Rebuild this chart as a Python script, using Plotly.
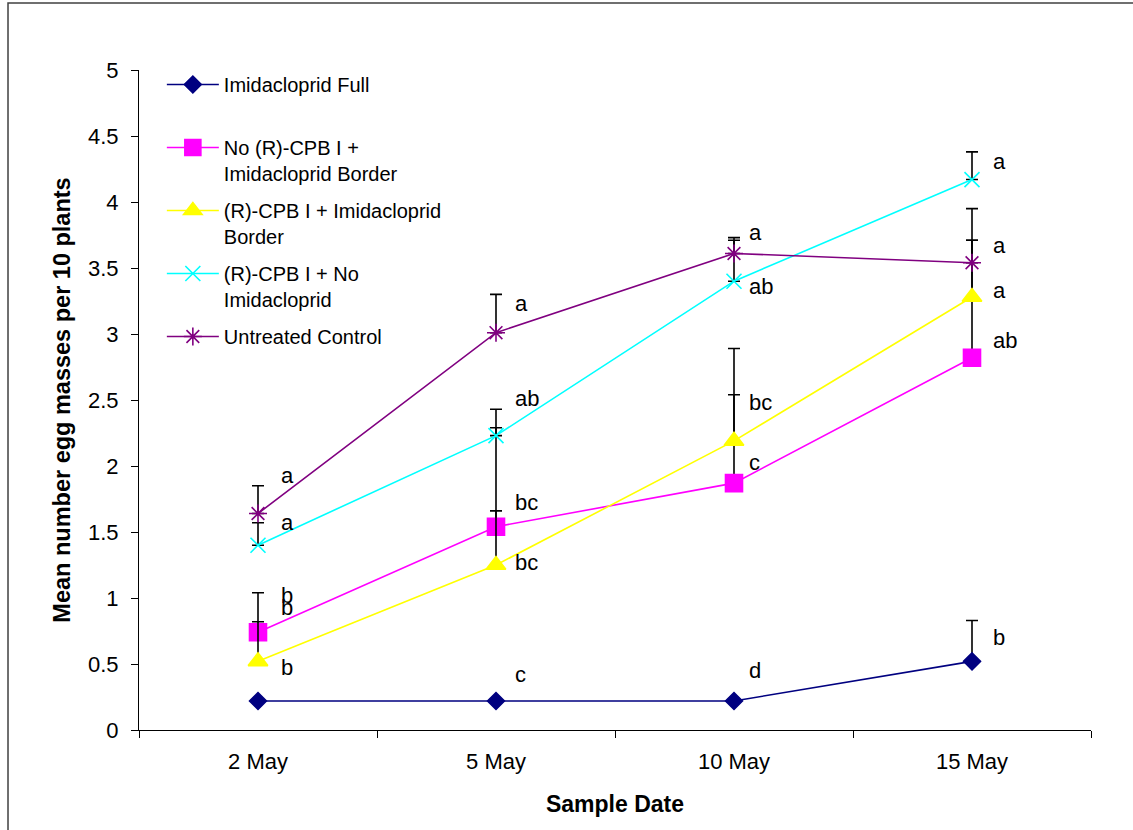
import plotly.graph_objects as go

dates = ["2 May", "5 May", "10 May", "15 May"]

series_names = [
    "Imidacloprid Full<br> ",
    "No (R)-CPB I +<br>Imidacloprid Border",
    "(R)-CPB I + Imidacloprid<br>Border",
    "(R)-CPB I + No<br>Imidacloprid",
    "Untreated Control",
]

imid_full = [0.22, 0.22, 0.22, 0.52]
imid_full_err = [None, None, None, 0.31]

no_cpb_border = [0.74, 1.54, 1.87, 2.82]
no_cpb_border_err = [0.30, 0.12, 0.67, 0.89]

cpb_border = [0.52, 1.25, 2.19, 3.28]
cpb_border_err = [0.30, 1.04, 0.70, 0.43]

cpb_no_imid = [1.40, 2.23, 3.40, 4.17]
cpb_no_imid_err = [0.17, 0.20, 0.31, 0.21]

control = [1.64, 3.01, 3.61, 3.54]
control_err = [0.21, 0.29, 0.12, 0.41]

# significance letters and the value at which each is written
imid_full_letters = ["b", "c", "d", "b"]
imid_full_letter_y = [0.93, 0.42, 0.45, 0.70]
no_cpb_border_letters = ["b", "bc", "c", "ab"]
no_cpb_border_letter_y = [1.02, 1.72, 2.03, 2.95]
cpb_border_letters = ["b", "bc", "bc", "a"]
cpb_border_letter_y = [0.47, 1.27, 2.48, 3.33]
cpb_no_imid_letters = ["a", "ab", "ab", "a"]
cpb_no_imid_letter_y = [1.57, 2.51, 3.36, 4.31]
control_letters = ["a", "a", "a", "a"]
control_letter_y = [1.93, 3.23, 3.77, 3.67]

y_ticks = [0, 0.5, 1, 1.5, 2, 2.5, 3, 3.5, 4, 4.5, 5]
y_tick_text = ["0", "0.5", "1", "1.5", "2", "2.5", "3", "3.5", "4", "4.5", "5"]

values = [imid_full, no_cpb_border, cpb_border, cpb_no_imid, control]
errors = [imid_full_err, no_cpb_border_err, cpb_border_err, cpb_no_imid_err, control_err]
letters = [imid_full_letters, no_cpb_border_letters, cpb_border_letters,
           cpb_no_imid_letters, control_letters]
letter_ys = [imid_full_letter_y, no_cpb_border_letter_y, cpb_border_letter_y,
             cpb_no_imid_letter_y, control_letter_y]

colors = ["#000080", "#FF00FF", "#FFFF00", "#00FFFF", "#800080"]
symbols = ["diamond", "square", "triangle-up", "x-thin-open", "asterisk-open"]
sizes = [13, 17, 17, 15, 15]

fig = go.Figure()
for i in range(5):
    err = errors[i]
    fig.add_trace(go.Scatter(
        x=dates, y=values[i], name=series_names[i], mode="lines+markers",
        legendgroup=f"g{i}",
        line=dict(color=colors[i], width=1.6),
        marker=dict(symbol=symbols[i], size=sizes[i], color=colors[i],
                    line=dict(color=colors[i], width=1.6)),
        error_y=dict(type="data", symmetric=False, array=err,
                     arrayminus=[0] * len(err), color="black",
                     thickness=1.6, width=6),
    ))

letter_shift = [21, 17, 13, 19]
for i in range(5):
    for j, d in enumerate(dates):
        fig.add_annotation(
            x=d, y=letter_ys[i][j], text=letters[i][j], showarrow=False,
            xanchor="left", yanchor="middle", xshift=letter_shift[j],
            font=dict(family="Liberation Sans, Arial", size=22, color="black"),
        )

# outer frame around the chart area
fig.add_shape(type="rect", xref="paper", yref="paper",
              x0=-0.1376, x1=1.06, y0=-0.18, y1=1.1015,
              line=dict(color="#404040", width=1.5), fillcolor="rgba(0,0,0,0)")

fig.update_layout(
    width=1133, height=830,
    margin=dict(l=139, r=42, t=70, b=100),
    plot_bgcolor="white", paper_bgcolor="white",
    font=dict(family="Liberation Sans, Arial", color="black"),
    legend=dict(x=0.024, y=1.0076, xanchor="left", yanchor="top",
                font=dict(family="Liberation Sans, Arial", size=20),
                valign="top", tracegroupgap=8, bgcolor="rgba(0,0,0,0)",
                itemwidth=52),
    xaxis=dict(
        type="category", tickson="boundaries", range=[-0.5, 3.5],
        showline=True, linecolor="black", linewidth=1,
        ticks="outside", ticklen=7, tickcolor="black",
        tickfont=dict(size=22), ticklabelstandoff=12,
        showgrid=False, zeroline=False,
        title=dict(text="<b>Sample Date</b>", font=dict(size=23), standoff=22),
    ),
    yaxis=dict(
        range=[0, 5], tickvals=y_ticks, ticktext=y_tick_text,
        showline=True, linecolor="black", linewidth=1,
        ticks="outside", ticklen=7, tickcolor="black",
        tickfont=dict(size=22), ticklabelstandoff=8,
        showgrid=False, zeroline=False,
        title=dict(text="<b>Mean number egg masses per 10 plants</b>",
                   font=dict(size=23.5), standoff=10),
    ),
)

fig.write_html("out.html", config={"displayModeBar": False},
               post_script="document.body.style.margin='0';")
